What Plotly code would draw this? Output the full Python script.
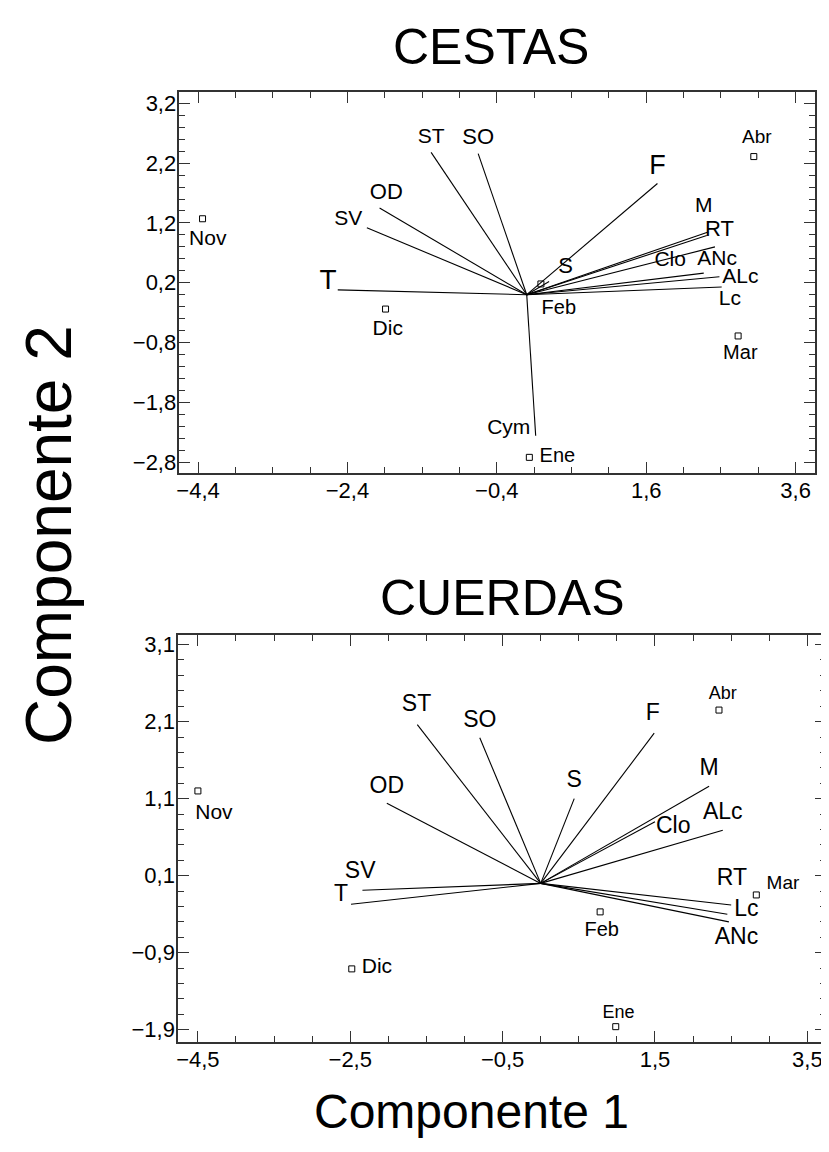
import plotly.graph_objects as go

# ---------------- CESTAS (top) ----------------
ces_vars = ["T", "SV", "OD", "ST", "SO", "F", "S", "M", "RT", "ANc", "Clo", "ALc", "Lc", "Cym"]
ces_vx = [-2.53, -2.14, -1.97, -1.28, -0.65, 1.75, 0.30, 2.43, 2.41, 2.52, 2.37, 2.58, 2.61, 0.12]
ces_vy = [0.08, 1.12, 1.45, 2.38, 2.36, 1.86, 0.22, 1.05, 0.99, 0.80, 0.36, 0.30, 0.13, -2.36]
ces_lx = [-2.66, -2.39, -1.88, -1.28, -0.65, 1.75, 0.52, 2.37, 2.58, 2.55, 1.92, 2.86, 2.72, -0.24]
ces_ly = [0.22, 1.26, 1.70, 2.63, 2.62, 2.13, 0.45, 1.47, 1.07, 0.59, 0.57, 0.28, -0.09, -2.24]
ces_lsize = [28, 21, 22, 21, 22, 27, 22, 21, 22, 21, 21, 21, 21, 21]

ces_months = ["Nov", "Dic", "Feb", "Mar", "Abr", "Ene"]
ces_mx = [-4.34, -1.89, 0.19, 2.83, 3.04, 0.035]
ces_my = [1.27, -0.24, 0.18, -0.69, 2.31, -2.72]
ces_mlx = [-4.27, -1.86, 0.43, 2.86, 3.08, 0.41]
ces_mly = [0.92, -0.58, -0.24, -0.99, 2.62, -2.71]
ces_msize = [21, 21, 20, 20, 19, 20]

# ---------------- CUERDAS (bottom) ----------------
cue_vars = ["ST", "SO", "OD", "SV", "T", "S", "F", "M", "Clo", "ALc", "RT", "Lc", "ANc"]
cue_vx = [-1.62, -0.80, -2.02, -2.34, -2.49, 0.44, 1.49, 2.21, 1.50, 2.39, 2.50, 2.45, 2.47]
cue_vy = [2.06, 1.89, 1.04, -0.09, -0.27, 1.10, 1.95, 1.26, 0.80, 0.69, -0.28, -0.40, -0.50]
cue_lx = [-1.63, -0.80, -2.02, -2.37, -2.62, 0.44, 1.47, 2.21, 1.74, 2.39, 2.51, 2.70, 2.57]
cue_ly = [2.31, 2.10, 1.25, 0.14, -0.16, 1.33, 2.19, 1.48, 0.73, 0.91, 0.05, -0.35, -0.71]
cue_lsize = [23, 23, 23, 23, 23, 23, 23, 23, 23, 23, 23, 23, 23]

cue_months = ["Nov", "Dic", "Feb", "Mar", "Abr", "Ene"]
cue_mx = [-4.50, -2.48, 0.78, 2.83, 2.34, 0.985]
cue_my = [1.20, -1.11, -0.37, -0.15, 2.25, -1.86]
cue_mlx = [-4.29, -2.15, 0.80, 3.18, 2.39, 1.02]
cue_mly = [0.91, -1.09, -0.62, -0.01, 2.45, -1.69]
cue_msize = [21, 21, 20, 19, 18, 18]

FONT = "Liberation Sans, Arial, sans-serif"

def seg(vx, vy):
    xs, ys = [], []
    for a, b in zip(vx, vy):
        xs += [0, a, None]
        ys += [0, b, None]
    return xs, ys

fig = go.Figure()

for (vx, vy, vars_, lx, ly, ls, mx, my, months, mlx, mly, ms, xa, ya) in [
    (ces_vx, ces_vy, ces_vars, ces_lx, ces_ly, ces_lsize, ces_mx, ces_my, ces_months, ces_mlx, ces_mly, ces_msize, "x", "y"),
    (cue_vx, cue_vy, cue_vars, cue_lx, cue_ly, cue_lsize, cue_mx, cue_my, cue_months, cue_mlx, cue_mly, cue_msize, "x2", "y2"),
]:
    xs, ys = seg(vx, vy)
    fig.add_trace(go.Scatter(x=xs, y=ys, mode="lines", line=dict(color="black", width=1.1),
                             xaxis=xa, yaxis=ya, showlegend=False, hoverinfo="skip"))
    fig.add_trace(go.Scatter(x=lx, y=ly, mode="text", text=vars_, textposition="middle center",
                             textfont=dict(family=FONT, size=ls, color="black"),
                             xaxis=xa, yaxis=ya, showlegend=False))
    fig.add_trace(go.Scatter(x=mx, y=my, mode="markers",
                             marker=dict(symbol="square-open", size=6, color="black", line=dict(width=1)),
                             xaxis=xa, yaxis=ya, showlegend=False))
    fig.add_trace(go.Scatter(x=mlx, y=mly, mode="text", text=months, textposition="middle center",
                             textfont=dict(family=FONT, size=ms, color="black"),
                             xaxis=xa, yaxis=ya, showlegend=False))

W, H = 821, 1144      # page body keeps an 8 px margin
OFF = 8

def PX(px):
    return (px - OFF) / W

def PY(py):
    return 1 - (py - OFF) / H

def axis(domain, rng, tick0, dtick, mtick0, mdtick, anchor):
    return dict(domain=domain, range=rng, tick0=tick0, dtick=dtick, tickmode="linear",
                tickformat=".1f", ticks="inside", ticklen=11, tickwidth=1.3, tickcolor="#333",
                showline=True, linecolor="#333", linewidth=1.5, mirror="allticks",
                showgrid=False, zeroline=False, anchor=anchor, ticklabelstandoff=-3,
                tickfont=dict(family=FONT, size=22, color="black"),
                minor=dict(tick0=mtick0, dtick=mdtick, ticks="inside", ticklen=6,
                           tickwidth=1.1, tickcolor="#333", showgrid=False))

fig.update_layout(
    width=W, height=H, margin=dict(l=0, r=0, t=0, b=0),
    paper_bgcolor="white", plot_bgcolor="white", separators=",.",
    xaxis=axis([PX(177), PX(815)], [-4.65, 3.86], -4.4, 2, -4.4, 0.5, "y"),
    yaxis=axis([PY(472.7), PY(90.7)], [-2.983, 3.383], 0.2, 1, 0.2, 0.2, "x"),
    xaxis2=axis([PX(175.7), PX(826)], [-4.76, 3.745], -4.5, 2, -4.5, 0.5, "y2"),
    yaxis2=axis([PY(1043.3), PY(635)], [-2.055, 3.227], 0.1, 1, 0.1, 0.2, "x2"),
    annotations=[
        dict(text="CESTAS", x=PX(490), y=PY(45), xref="paper", yref="paper", showarrow=False,
             font=dict(family=FONT, size=50, color="black"), xanchor="center", yanchor="middle"),
        dict(text="CUERDAS", x=PX(501), y=PY(598), xref="paper", yref="paper", showarrow=False,
             font=dict(family=FONT, size=50, color="black"), xanchor="center", yanchor="middle"),
        dict(text="Componente 2", x=PX(46), y=PY(535), xref="paper", yref="paper", showarrow=False,
             textangle=-90, font=dict(family=FONT, size=64, color="black"),
             xanchor="center", yanchor="middle"),
        dict(text="Componente 1", x=PX(470), y=PY(1113), xref="paper", yref="paper", showarrow=False,
             font=dict(family=FONT, size=48, color="black"), xanchor="center", yanchor="middle"),
    ],
)

fig.write_html("out.html")
